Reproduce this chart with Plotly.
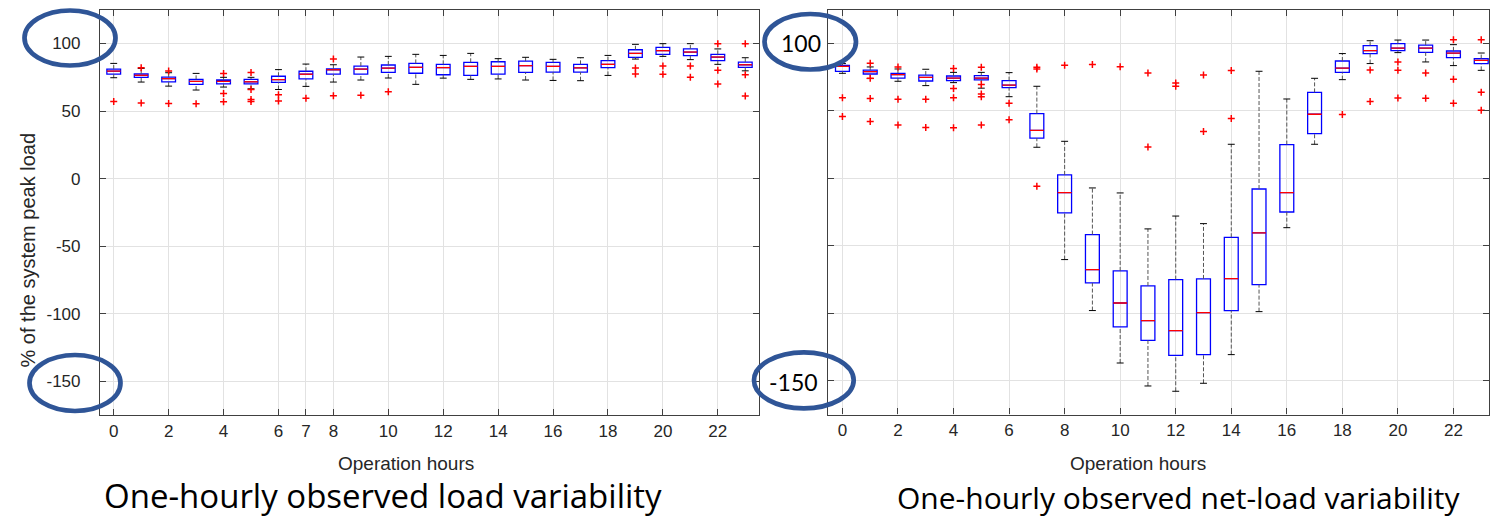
import plotly.graph_objects as go

# ---------------- data ----------------
hours = list(range(24))

# Left: one-hourly observed load (% of system peak load)
load_q1 = [77.4, 75.0, 71.7, 69.8, 70.2, 70.2, 71.2, 73.8, 77.4, 77.4, 78.6, 78.0,
           76.9, 76.4, 77.4, 78.6, 78.8, 78.8, 82.1, 89.8, 92.0, 91.0, 87.3, 82.4]
load_med = [79.6, 76.5, 74.0, 72.0, 72.0, 71.7, 73.3, 77.3, 80.6, 81.1, 81.8, 82.4,
            82.2, 83.1, 83.1, 83.6, 83.1, 82.0, 84.6, 92.7, 94.7, 93.7, 90.0, 84.3]
load_q3 = [81.1, 77.6, 75.2, 73.5, 73.0, 73.5, 75.8, 79.5, 81.3, 83.3, 84.1, 85.3,
           84.6, 86.1, 86.5, 87.0, 86.1, 84.6, 87.3, 95.4, 97.2, 96.0, 92.0, 86.3]
load_lo = [74.7, 71.5, 68.5, 65.6, 67.8, 66.5, 66.0, 68.3, 71.5, 73.0, 74.5, 69.8,
           74.4, 73.5, 73.8, 73.0, 72.7, 72.5, 76.4, 88.5, 90.5, 88.1, 84.6, 79.8]
load_hi = [85.3, 81.6, 78.4, 77.9, 75.0, 75.0, 80.7, 84.8, 84.3, 90.0, 90.5, 92.0,
           91.2, 92.7, 88.8, 89.8, 88.3, 89.5, 91.2, 99.4, 99.9, 99.9, 96.0, 89.5]
load_out_h = [0, 1, 1, 2, 2, 3, 4, 4, 4, 5, 5, 5, 5, 6, 6, 7, 8, 8, 9, 10,
              19, 19, 20, 20, 21, 21, 22, 22, 22, 23, 23, 23]
load_out_v = [57.2, 82.1, 56.0, 79.6, 55.7, 55.4, 77.9, 63.1, 56.9, 78.6, 66.0, 58.5, 57.2,
              62.1, 57.4, 59.6, 88.5, 61.3, 61.8, 64.3,
              81.9, 77.4, 83.3, 77.2, 83.3, 75.0, 99.9, 80.2, 70.1, 99.9, 76.9, 61.1]

# Right: one-hourly observed net-load
net_q1 = [79.1, 77.1, 74.1, 71.9, 72.2, 72.7, 67.0, 29.7, -25.7, -77.5, -110.0, -119.9,
          -131.0, -130.5, -97.9, -78.7, -25.0, 33.0, 78.3, 92.2, 94.4, 93.1, 89.2, 84.8]
net_med = [82.8, 78.8, 76.6, 74.6, 74.1, 74.1, 68.9, 35.4, -10.6, -67.6, -92.3, -105.3,
           -112.7, -99.4, -74.3, -40.5, -10.6, 47.3, 81.5, 94.4, 96.3, 96.3, 92.6, 87.2]
net_q3 = [83.5, 80.0, 77.6, 76.3, 75.6, 75.9, 72.2, 47.8, 2.4, -41.7, -68.6, -79.7,
          -75.0, -74.5, -43.7, -8.0, 24.9, 63.5, 86.7, 98.1, 99.6, 98.5, 94.1, 88.5]
net_lo = [77.6, 73.7, 71.7, 68.5, 70.7, 66.6, 60.3, 22.9, -60.2, -97.9, -136.7, -153.7,
          -157.6, -151.7, -130.5, -98.7, -36.6, 25.1, 72.9, 84.8, 92.9, 86.0, 83.3, 79.8]
net_hi = [84.8, 82.3, 80.8, 80.6, 78.3, 78.3, 78.1, 68.0, 27.3, -7.2, -10.9, -37.5,
          -28.0, -33.6, 25.1, 79.1, 58.6, 73.9, 92.2, 101.7, 102.2, 102.2, 98.8, 92.6]
net_out_h = [0, 0, 1, 1, 1, 1, 2, 2, 2, 3, 3, 4, 4, 4, 4, 5, 5, 5, 5, 5, 6, 6,
             7, 7, 7, 8, 9, 10, 11, 11, 12, 12, 13, 13, 14, 14, 18,
             19, 19, 20, 20, 20, 21, 21, 22, 22, 22, 23, 23, 23]
net_out_v = [59.6, 45.6, 85.0, 74.0, 58.9, 41.9, 82.3, 58.4, 39.4, 58.4, 37.6,
             81.1, 66.3, 59.6, 37.4, 82.0, 69.3, 62.3, 60.3, 39.4, 55.4, 43.3,
             82.0, 80.8, -6.0, 83.5, 84.2, 82.5, 77.8, 23.1, 70.4, 68.0, 76.3, 34.5,
             79.6, 44.1, 47.1, 80.0, 56.7, 86.0, 79.8, 59.3, 77.8, 59.1,
             102.4, 73.2, 55.4, 102.4, 63.6, 50.2]

xticks_left = [0, 2, 4, 6, 7, 8, 10, 12, 14, 16, 18, 20, 22]
xticks_right = [0, 2, 4, 6, 8, 10, 12, 14, 16, 18, 20, 22]
yticks = [-150, -100, -50, 0, 50, 100]

# ---------------- figure ----------------
W, H = 1491, 519
BOXW = 0.5
CAPW = 0.125


def px(p):
    return p / W


def py(p):
    return 1 - p / H


fig = go.Figure()


def add_panel(xa, ya, q1, med, q3, lo, hi, oh, ov):
    # whiskers (dashed)
    wx, wy = [], []
    for h, a, b, c, d in zip(hours, lo, q1, q3, hi):
        wx += [h, h, None, h, h, None]
        wy += [a, b, None, c, d, None]
    fig.add_trace(go.Scatter(x=wx, y=wy, mode="lines", xaxis=xa, yaxis=ya,
                             line=dict(color="#555555", width=1, dash="4px,2px"),
                             hoverinfo="skip", showlegend=False))
    # caps
    cx, cy = [], []
    for h, a, d in zip(hours, lo, hi):
        cx += [h - CAPW, h + CAPW, None, h - CAPW, h + CAPW, None]
        cy += [a, a, None, d, d, None]
    fig.add_trace(go.Scatter(x=cx, y=cy, mode="lines", xaxis=xa, yaxis=ya,
                             line=dict(color="black", width=1),
                             hoverinfo="skip", showlegend=False))
    # boxes
    fig.add_trace(go.Box(x=hours, q1=q1, median=med, q3=q3, lowerfence=q1, upperfence=q3,
                         width=BOXW, whiskerwidth=0, boxpoints=False,
                         fillcolor="rgba(0,0,0,0)", line=dict(color="#0000ff", width=1.3),
                         xaxis=xa, yaxis=ya, showlegend=False))
    # medians
    mx, my = [], []
    for h, m in zip(hours, med):
        mx += [h - BOXW / 2, h + BOXW / 2, None]
        my += [m, m, None]
    fig.add_trace(go.Scatter(x=mx, y=my, mode="lines", xaxis=xa, yaxis=ya,
                             line=dict(color="#ff0000", width=1.3),
                             hoverinfo="skip", showlegend=False))
    # outliers
    fig.add_trace(go.Scatter(x=oh, y=ov, mode="markers", xaxis=xa, yaxis=ya,
                             marker=dict(symbol="cross-thin", size=5,
                                         line=dict(color="#ff0000", width=1.5)),
                             hoverinfo="skip", showlegend=False))


add_panel("x", "y", load_q1, load_med, load_q3, load_lo, load_hi, load_out_h, load_out_v)
add_panel("x2", "y2", net_q1, net_med, net_q3, net_lo, net_hi, net_out_h, net_out_v)

tickfont = dict(family="Liberation Sans, Arial, sans-serif", size=17, color="#262626")
axis_common = dict(showline=True, linecolor="#404040", linewidth=1.2, mirror="ticks",
                   ticks="inside", ticklen=6, tickcolor="#404040",
                   showgrid=True, gridcolor="#e2e2e2", gridwidth=1, zeroline=False,
                   tickfont=tickfont)

YR = [-174.8, 124.8]
fig.update_layout(
    width=W, height=H,
    margin=dict(l=0, r=0, t=0, b=0),
    paper_bgcolor="white", plot_bgcolor="white",
    xaxis=dict(domain=[px(100), px(759)], range=[-0.5, 23.5], anchor="y",
               tickvals=xticks_left, ticktext=[str(v) for v in xticks_left],
               ticklabelstandoff=0, **axis_common),
    yaxis=dict(domain=[py(415), py(10)], range=YR, anchor="x",
               tickvals=yticks, ticktext=[str(v) for v in yticks],
               ticklabelstandoff=15, **axis_common),
    xaxis2=dict(domain=[px(828), px(1489)], range=[-0.52, 23.28], anchor="y2",
                tickvals=xticks_right, ticktext=[str(v) for v in xticks_right],
                ticklabelstandoff=0, **axis_common),
    yaxis2=dict(domain=[py(414.5), py(9.5)], range=YR, anchor="x2",
                tickvals=yticks, showticklabels=False, **axis_common),
)

label_font = dict(family="Liberation Sans, Arial, sans-serif", size=19, color="#262626")
ytitle_font = dict(family="Liberation Sans, Arial, sans-serif", size=20, color="#262626")
caption_font_l = dict(family="Open Sans, Lato, sans-serif", size=33, color="black")
caption_font_r = dict(family="Open Sans, Lato, sans-serif", size=30, color="black")
big_num_font = dict(family="Lato, Open Sans, sans-serif", size=23, color="black")

annotations = [
    dict(text="% of the system peak load", x=px(27.5), y=py(250), textangle=-90,
         font=ytitle_font, yanchor="middle"),
    dict(text="Operation hours", x=px(405.7), y=py(463), font=label_font, yanchor="middle"),
    dict(text="Operation hours", x=px(1138), y=py(463), font=label_font, yanchor="middle"),
    dict(text="One-hourly observed load variability", x=px(383), y=0, font=caption_font_l,
         yanchor="bottom", borderpad=0),
    dict(text="One-hourly observed net-load variability", x=px(1178), y=0, font=caption_font_r,
         yanchor="bottom", borderpad=0),
    dict(text="100", x=px(800.7), y=py(43.3), font=big_num_font, yanchor="middle"),
    dict(text="-150", x=px(793.7), y=py(381.7), font=big_num_font, yanchor="middle"),
]
for a in annotations:
    a.update(xref="paper", yref="paper", showarrow=False, xanchor="center")
fig.update_layout(annotations=annotations)

ellipses = [(24.5, 115.5, 10.5, 65.5), (29.5, 120.5, 355, 411),
            (764.5, 856, 14, 69.5), (754, 853.7, 352.3, 408.3)]
for x0, x1, y0, y1 in ellipses:
    fig.add_shape(type="circle", xref="paper", yref="paper",
                  x0=px(x0), x1=px(x1), y0=py(y1), y1=py(y0),
                  line=dict(color="#2F5597", width=4.7), layer="above")

fig.write_html("out.html", config={"displayModeBar": False},
               post_script="document.body.style.margin='0';document.body.style.overflow='hidden';")
